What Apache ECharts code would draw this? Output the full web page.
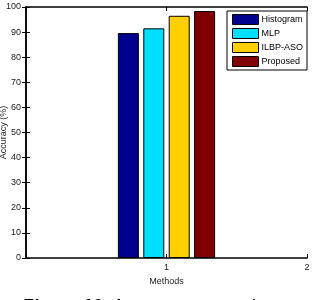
<!DOCTYPE html>
<html style="height: 100%">
<head>
  <meta charset="utf-8">
</head>
<body style="height: 100%; margin: 0; background: #fff">
  <div id="container" style="width: 312px; height: 300px"></div>
  <script src="https://cdn.jsdelivr.net/npm/echarts@6/dist/echarts.min.js"></script>
  <script>
    // method names (legend) and accuracy values
    const methods = ['Histogram', 'MLP', 'ILBP-ASO', 'Proposed'];
    const accuracy = [89.6, 91.5, 96.5, 98.4];
    const colors = ['#00008f', '#00dfff', '#ffcf00', '#800000'];
    const groupName = ['Methods'];

    var chart = echarts.init(document.getElementById('container'), null, { renderer: 'canvas' });

    const font = 'Liberation Sans, Arial, sans-serif';
    const line = { lineStyle: { color: '#000', width: 1.5 } };
    const tick = { show: true, inside: true, length: 4, lineStyle: { color: '#000' } };

    var option = {
      backgroundColor: '#fff',
      animation: false,
      grid: { left: 26, right: 5, top: 7, bottom: 42, containLabel: false, outerBoundsMode: 'none' },
      legend: {
        orient: 'vertical',
        left: 227,
        top: 11,
        padding: [3, 4, 3, 5],
        icon: 'rect',
        itemWidth: 26,
        itemHeight: 10,
        itemGap: 3,
        backgroundColor: '#fff',
        borderColor: '#000',
        borderWidth: 1,
        borderRadius: 0,
        itemStyle: { borderColor: '#000', borderWidth: 1 },
        textStyle: { fontSize: 9, color: '#000', fontFamily: font, padding: [0, 0, 0, -2] },
        data: methods
      },
      xAxis: [
        {
          type: 'category',
          data: groupName,
          show: false
        },
        {
          type: 'value',
          min: 0,
          max: 2,
          interval: 1,
          position: 'bottom',
          axisLine: line,
          axisTick: tick,
          splitLine: { show: false },
          axisLabel: {
            fontSize: 9, color: '#222', fontFamily: font, margin: 5,
            formatter: function (v) { return v === 0 ? '' : v; }
          },
          name: 'Methods',
          nameLocation: 'middle',
          nameGap: 16,
          nameTextStyle: { fontSize: 9, color: '#222', fontFamily: font }
        },
        {
          type: 'value',
          min: 0,
          max: 2,
          interval: 1,
          position: 'top',
          axisLine: line,
          axisTick: tick,
          splitLine: { show: false },
          axisLabel: { show: false }
        }
      ],
      yAxis: [
        {
          type: 'value',
          min: 0,
          max: 100,
          interval: 10,
          position: 'left',
          axisLine: { show: true, lineStyle: { color: '#000', width: 1.5 } },
          axisTick: tick,
          splitLine: { show: false },
          axisLabel: { fontSize: 9, color: '#222', fontFamily: font, margin: 5 },
          name: 'Accuracy (%)',
          nameLocation: 'middle',
          nameGap: 18,
          nameMoveOverlap: false,
          nameTextStyle: { fontSize: 9, color: '#222', fontFamily: font }
        },
        {
          type: 'value',
          min: 0,
          max: 100,
          interval: 10,
          position: 'right',
          axisLine: { show: true, lineStyle: { color: '#000', width: 1.5 } },
          axisTick: tick,
          splitLine: { show: false },
          axisLabel: { show: false }
        }
      ],
      series: methods.map(function (m, i) {
        return {
          name: m,
          type: 'bar',
          xAxisIndex: 0,
          yAxisIndex: 0,
          barWidth: 21,
          barGap: '21%',
          itemStyle: { color: colors[i], borderColor: '#000', borderWidth: 1 },
          data: [accuracy[i]]
        };
      }),
      graphic: [
        {
          type: 'text',
          left: 22,
          top: 298,
          style: {
            text: '{b|Figure 10:} {n|Accuracy comparison}',
            rich: {
              b: { font: 'italic bold 18px Liberation Sans, Arial, sans-serif', fill: '#000' },
              n: { font: 'italic 18px Liberation Sans, Arial, sans-serif', fill: '#000' }
            }
          }
        }
      ]
    };

    chart.setOption(option);
    window.addEventListener('resize', chart.resize);
  </script>
</body>
</html>
